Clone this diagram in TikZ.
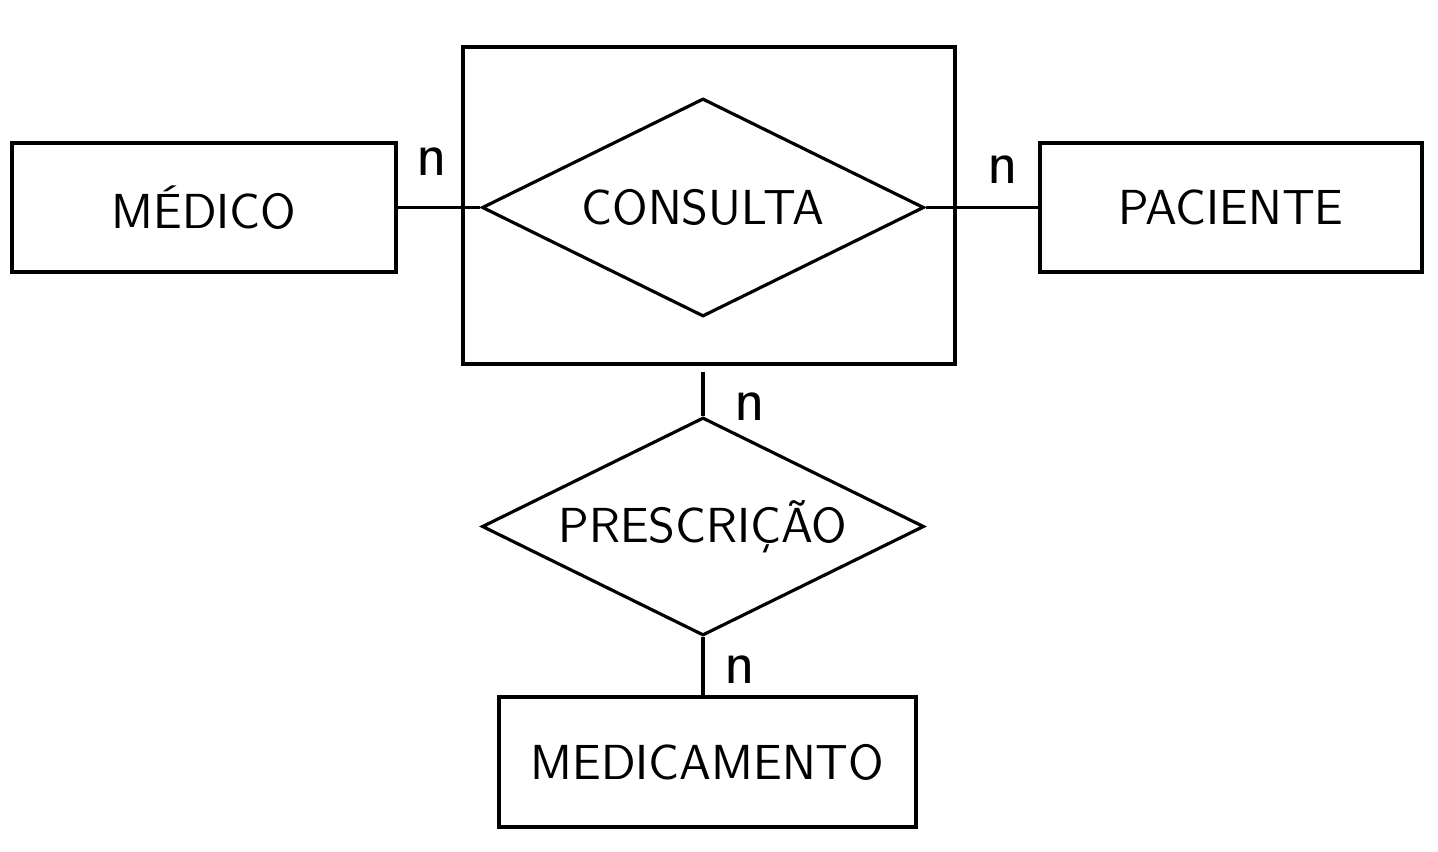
\documentclass[tikz,border=0pt]{standalone}
\usetikzlibrary{shapes.geometric}
\tikzset{
    entity/.style={rectangle,draw,line width=0.9pt,minimum width=3.84cm,minimum height=1.29cm,font=\sffamily\fontsize{14}{16}\selectfont},
    relation/.style={diamond,draw,line width=0.9pt,aspect=2,inner sep=0pt,minimum width=4.42cm,minimum height=2.18cm,font=\sffamily\fontsize{14}{16}\selectfont},
    card/.style={font=\sffamily\fontsize{18}{20}\selectfont}
}
\begin{document}
\begin{tikzpicture}[line width=0.9pt]
        \useasboundingbox (0,0) rectangle (14.38,-8.52);
        \node[entity] (M) at (2.04, -2.075) {MÉDICO};
        \node[entity,minimum width=3.82cm] (P) at (12.31, -2.075) {PACIENTE};
        \node[rectangle,draw,minimum width=4.92cm,minimum height=3.17cm] (G) at (7.09, -2.055) {};
        \node[relation] (C) at (7.03, -2.075) {CONSULTA};
        \node[relation] (R) at (7.03, -5.265) {PRESCRIÇÃO};
        \node[entity,minimum width=4.17cm,minimum height=1.30cm] (D) at (7.075, -7.62) {MEDICAMENTO};
        \coordinate (T) at (7.03, -3.72);
        \draw (M.east) to (C.west);
        \draw (C.east) to (P.west);
        \draw (T) to (R.north);
        \draw (R.south) to (R.south |- D.north);
        \node[card] (n1) at (4.32, -1.62) {n};
        \node[card] (n2) at (10.03, -1.70) {n};
        \node[card] (n3) at (7.50, -4.07) {n};
        \node[card] (n4) at (7.40, -6.70) {n};
    \end{tikzpicture}
\end{document}
